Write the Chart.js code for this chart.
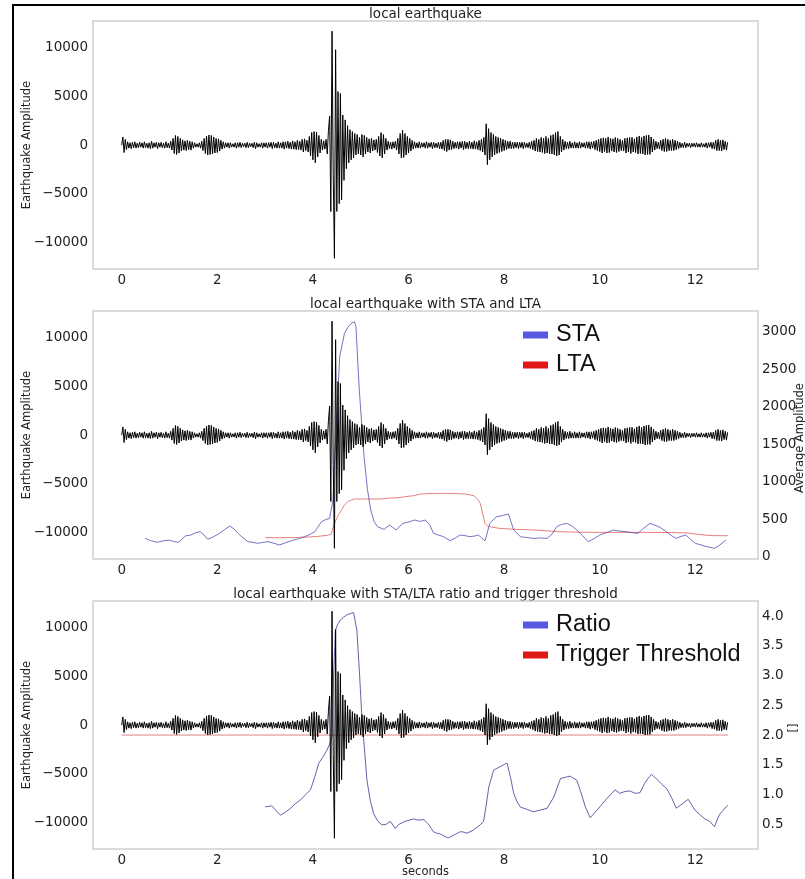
<!DOCTYPE html>
<html>
<head>
<meta charset="utf-8">
<title>local earthquake STA/LTA</title>
<script src="https://cdn.jsdelivr.net/npm/chart.js@4.4.1/dist/chart.umd.min.js"></script>
<style>
  html, body { margin: 0; padding: 0; background: #fff; }
  body { width: 805px; height: 879px; position: relative; overflow: hidden; }
  canvas { position: absolute; left: 0; }
  .frame-top { position: absolute; left: 12px; top: 4px; width: 793px; height: 2px; background: #000; }
  .frame-left { position: absolute; left: 12px; top: 4px; width: 2px; height: 875px; background: #000; }
</style>
</head>
<body>
<canvas id="quake" width="805" height="290" style="top:0px"></canvas>
<canvas id="staLta" width="805" height="290" style="top:290px"></canvas>
<canvas id="ratio" width="805" height="299" style="top:580px"></canvas>
<div class="frame-top"></div>
<div class="frame-left"></div>
<script>
// tick labels
const secondTicks = [0, 2, 4, 6, 8, 10, 12];
const ampTicks = [-10000, -5000, 0, 5000, 10000];
const avgTicks = [0, 500, 1000, 1500, 2000, 2500, 3000];
const ratioTicks = [0.5, 1.0, 1.5, 2.0, 2.5, 3.0, 3.5, 4.0];

// seismogram, one sample every 0.025 s starting at 0 s (one row per second)
const waveStart = 0;
const waveStep = 0.025;
const waveAmp = [
  0, 850, -750, 600, -450, 350, -300, 250, -350, 300, -250, 350, -300, 200, -250, 300, -200, 250, -300, 350,
  -250, 200, -300, 250, -350, 400, -300, 250, -200, 300, -350, 250, -200, 300, -250, 200, -300, 350, -250, 200,
  -300, 400, -500, 700, -850, 1000, -950, 900, -800, 700, -600, 550, -500, 450, -550, 500, -450, 400, -500, 350,
  -300, 250, -200, 150, -200, 250, -300, 400, -550, 700, -850, 950, -1000, 1050, -950, 1000, -900, 850, -800, 700,
  -750, 650, -600, 500, -400, 350, -300, 250, -200, 250, -300, 250, -200, 150, -200, 250, -300, 250, -200, 300,
  -250, 200, -150, 200, -250, 300, -250, 200, -150, 200, -250, 300, -350, 250, -200, 150, -200, 250, -300, 250,
  -200, 250, -300, 250, -200, 300, -350, 300, -250, 200, -300, 350, -300, 250, -300, 350, -400, 350, -300, 400,
  -350, 300, -400, 450, -400, 350, -450, 500, -450, 400, -500, 600, -700, 650, -550, 500, -700, 900, -1100, 1300,
  -1500, 1400, -1800, 1350, -1200, 1000, -800, 600, -500, 450, -400, 600, -900, 1500, 3000, -6800, 11700, -3000, -11600, 9800,
  -6800, 5500, -6000, 5300, -5600, 3100, -3600, 2600, -2400, 2000, -1800, 1600, -1500, 1400, -1300, 1200, -1000, 1100, -900, 800,
  -1000, 1100, -1200, 1000, -900, 800, -700, 650, -800, 700, -600, 550, -500, 600, -750, 900, -1100, 1300, -1300, 1100,
  -900, 700, -500, 400, -350, 300, -400, 350, -300, 400, -500, 700, -900, 1200, -1300, 1550, -1250, 1200, -1000, 900,
  -800, 700, -600, 500, -400, 350, -300, 250, -300, 350, -300, 250, -200, 250, -300, 350, -300, 250, -200, 300,
  -350, 300, -250, 200, -250, 300, -350, 300, -400, 500, -550, 600, -650, 600, -500, 550, -450, 400, -350, 300,
  -300, 350, -400, 350, -300, 400, -450, 400, -350, 300, -350, 400, -350, 300, -400, 450, -400, 350, -450, 500,
  -550, 600, -700, 800, -1000, 2200, -2000, 1700, -1500, 1300, -1200, 1100, -1000, 900, -850, 800, -750, 700, -650, 600,
  -550, 500, -450, 400, -350, 400, -350, 300, -350, 300, -250, 300, -350, 300, -250, 300, -350, 300, -250, 200,
  -250, 300, -350, 400, -450, 500, -600, 700, -650, 600, -700, 800, -750, 700, -850, 900, -800, 700, -900, 1000,
  -900, 1100, -1000, 1300, -1100, 1400, -1000, 900, -700, 600, -500, 400, -350, 300, -350, 400, -300, 250, -300, 350,
  -300, 250, -300, 350, -300, 250, -200, 250, -300, 350, -300, 350, -400, 350, -300, 400, -450, 500, -550, 600,
  -650, 700, -800, 750, -650, 700, -800, 850, -750, 700, -600, 650, -700, 800, -750, 700, -650, 600, -550, 500,
  -600, 700, -800, 750, -700, 800, -850, 800, -700, 650, -750, 850, -900, 950, -850, 800, -900, 950, -1000, 1000,
  -950, 1050, -950, 850, -700, 600, -500, 400, -350, 300, -400, 500, -550, 600, -650, 700, -650, 600, -550, 500,
  -550, 600, -550, 500, -450, 400, -350, 300, -250, 200, -250, 300, -250, 200, -150, 200, -250, 200, -150, 200,
  -200, 250, -200, 150, -200, 250, -200, 150, -200, 250, -300, 250, -200, 300, -350, 300, -400, 500, -550, 600,
  -550, 500, -600, 550, -450, 400, -500, 300
];

// short term average
const staTime = [0.49, 0.6, 0.74, 0.9, 1.0, 1.1, 1.19, 1.33, 1.45, 1.55, 1.64, 1.72, 1.8, 1.92, 2.05, 2.15, 2.26, 2.35, 2.43, 2.52,
  2.64, 2.75, 2.85, 2.95, 3.06, 3.18, 3.3, 3.42, 3.55, 3.7, 3.83, 3.95, 4.04, 4.1, 4.18, 4.27, 4.35, 4.42, 4.49, 4.56,
  4.66, 4.73, 4.8, 4.87, 4.9, 4.97, 5.07, 5.14, 5.21, 5.28, 5.35, 5.49, 5.6, 5.67, 5.74, 5.88, 6.03, 6.12, 6.25, 6.35,
  6.45, 6.52, 6.62, 6.73, 6.87, 6.98, 7.08, 7.18, 7.29, 7.38, 7.46, 7.53, 7.6, 7.7, 7.84, 7.95, 8.09, 8.2, 8.34, 8.48,
  8.62, 8.76, 8.9, 9.0, 9.1, 9.2, 9.31, 9.42, 9.52, 9.64, 9.76, 9.88, 10.0, 10.14, 10.28, 10.42, 10.56, 10.68, 10.8, 10.92,
  11.05, 11.15, 11.26, 11.4, 11.5, 11.6, 11.7, 11.8, 11.9, 12.0, 12.1, 12.2, 12.3, 12.4, 12.5, 12.64];
const staValue = [245, 215, 192, 215, 220, 200, 192, 276, 290, 320, 333, 290, 232, 265, 313, 360, 409, 370, 313, 260,
  200, 190, 178, 190, 200, 180, 156, 185, 213, 240, 267, 300, 333, 390, 467, 495, 511, 756, 1778, 2667,
  2978, 3060, 3111, 3133, 3067, 2222, 1333, 900, 622, 470, 400, 364, 422, 390, 356, 444, 467, 489, 470, 489,
  420, 311, 290, 267, 213, 250, 289, 280, 267, 275, 289, 250, 213, 444, 533, 545, 569, 356, 267, 255,
  244, 250, 244, 300, 400, 430, 444, 410, 356, 280, 200, 240, 289, 320, 356, 340, 333, 320, 311, 380,
  444, 420, 391, 330, 280, 244, 270, 289, 230, 178, 160, 140, 125, 111, 150, 222];

// long term average
const ltaTime = [3.0, 3.3, 3.6, 3.9, 4.1, 4.3, 4.38, 4.45, 4.52, 4.6, 4.66, 4.73, 4.8, 4.87, 5.2, 5.42, 5.6, 5.83, 6.0, 6.12,
  6.25, 6.5, 6.8, 7.0, 7.2, 7.37, 7.45, 7.5, 7.55, 7.6, 7.65, 7.7, 7.9, 8.2, 8.6, 9.0, 9.16, 9.6, 10.0, 10.5,
  11.0, 11.5, 11.8, 12.0, 12.2, 12.4, 12.68];
const ltaValue = [253, 253, 255, 262, 270, 285, 298, 444, 540, 622, 690, 733, 755, 769, 769, 770, 780, 790, 805, 815,
  836, 843, 844, 842, 835, 813, 760, 711, 580, 444, 410, 400, 378, 365, 356, 340, 333, 326, 324, 324,
  324, 322, 318, 302, 288, 280, 280];

// STA/LTA ratio
const ratioTime = [3.0, 3.07, 3.14, 3.2, 3.26, 3.32, 3.42, 3.53, 3.64, 3.74, 3.85, 3.95, 4.04, 4.12, 4.2, 4.29, 4.35, 4.4, 4.43, 4.47,
  4.52, 4.57, 4.64, 4.71, 4.78, 4.85, 4.92, 4.97, 5.02, 5.08, 5.13, 5.2, 5.27, 5.35, 5.44, 5.53, 5.62, 5.72, 5.8, 5.93,
  6.02, 6.11, 6.2, 6.32, 6.42, 6.52, 6.59, 6.66, 6.75, 6.83, 6.95, 7.08, 7.15, 7.22, 7.35, 7.5, 7.57, 7.62, 7.68, 7.78,
  7.92, 8.06, 8.13, 8.2, 8.27, 8.34, 8.48, 8.62, 8.76, 8.9, 9.04, 9.11, 9.18, 9.28, 9.38, 9.52, 9.6, 9.7, 9.8, 9.9,
  10.0, 10.09, 10.18, 10.25, 10.32, 10.42, 10.52, 10.63, 10.74, 10.84, 10.94, 11.01, 11.08, 11.15, 11.22, 11.3, 11.4, 11.5, 11.6, 11.72,
  11.85, 11.92, 11.99, 12.1, 12.2, 12.3, 12.4, 12.5, 12.64, 12.68];
const ratioValue = [0.795, 0.8, 0.81, 0.76, 0.7, 0.655, 0.7, 0.77, 0.85, 0.91, 1.0, 1.08, 1.3, 1.52, 1.62, 1.74, 1.85, 1.97, 2.94, 3.76,
  3.86, 3.93, 3.98, 4.02, 4.04, 4.06, 3.76, 3.1, 2.36, 1.75, 1.24, 0.9, 0.68, 0.56, 0.49, 0.5, 0.55, 0.43, 0.5, 0.55,
  0.57, 0.59, 0.57, 0.58, 0.5, 0.375, 0.35, 0.34, 0.3, 0.27, 0.32, 0.375, 0.37, 0.35, 0.4, 0.49, 0.55, 0.8, 1.13, 1.41,
  1.47, 1.53, 1.3, 1.02, 0.88, 0.79, 0.75, 0.71, 0.74, 0.77, 0.96, 1.12, 1.27, 1.29, 1.31, 1.24, 1.05, 0.79, 0.61, 0.7,
  0.79, 0.88, 0.96, 1.02, 1.08, 1.02, 1.05, 1.06, 1.02, 1.03, 1.19, 1.27, 1.34, 1.29, 1.24, 1.17, 1.1, 0.95, 0.77, 0.84,
  0.92, 0.83, 0.74, 0.66, 0.59, 0.55, 0.46, 0.66, 0.79, 0.82];

// trigger threshold
const thresholdTime = [0, 12.68];
const thresholdValue = [2.0, 2.0];

const fontFamily = "'DejaVu Sans', sans-serif";
Chart.defaults.font.family = fontFamily;
Chart.defaults.color = '#222';

function toPoints(xs, ys) {
  return xs.map((x, i) => ({ x: x, y: ys[i] }));
}
const wavePoints = waveAmp.map((v, i) => ({ x: waveStart + i * waveStep, y: v }));

function minusSign(v) {
  return v < 0 ? '\u2212' + Math.abs(v) : String(v);
}

// frame, legend and right-hand axis label
const panelDecor = {
  id: 'panelDecor',
  afterDraw(chart, args, opts) {
    const ctx = chart.ctx;
    const a = chart.chartArea;
    ctx.save();
    ctx.strokeStyle = '#d0d0d0';
    ctx.lineWidth = 1.5;
    ctx.strokeRect(a.left, a.top, a.right - a.left, a.bottom - a.top);
    if (opts.legend) {
      ctx.font = "23.5px 'Liberation Sans', Arial, sans-serif";
      ctx.textBaseline = 'middle';
      ctx.textAlign = 'left';
      opts.legend.forEach((item, i) => {
        const y = 45 + i * 30;
        ctx.fillStyle = item.color;
        ctx.fillRect(523, y - 3.5, 25, 7);
        ctx.fillStyle = '#111';
        ctx.fillText(item.label, 556, y);
      });
    }
    if (opts.rightTitle) {
      ctx.font = '11.5px ' + fontFamily;
      ctx.fillStyle = '#222';
      ctx.textAlign = 'center';
      ctx.textBaseline = 'middle';
      ctx.translate(opts.rightTitleX, (a.top + a.bottom) / 2 + 3);
      ctx.rotate(-Math.PI / 2);
      ctx.fillText(opts.rightTitle, 0, 0);
    }
    ctx.restore();
  }
};
Chart.register(panelDecor);

function xAxis(withTitle, height) {
  return {
    type: 'linear',
    min: -0.6,
    max: 13.31,
    grid: { display: false, drawTicks: false },
    border: { display: false },
    ticks: { padding: 3, font: { size: 13.5 }, color: '#222', maxRotation: 0, autoSkip: false },
    afterBuildTicks: s => { s.ticks = secondTicks.map(v => ({ value: v })); },
    afterFit: s => { s.height = height; },
    title: { display: withTitle, text: 'seconds', font: { size: 11.5 }, color: '#222', padding: { top: 0, bottom: 0 } }
  };
}

function ampAxis() {
  return {
    type: 'linear',
    position: 'left',
    min: -12700,
    max: 12740,
    grid: { display: false, drawTicks: false },
    border: { display: false },
    ticks: { padding: 5, font: { size: 13.5 }, color: '#222', callback: v => minusSign(v) },
    afterBuildTicks: s => { s.ticks = ampTicks.map(v => ({ value: v })); },
    afterFit: s => { s.width = 93; },
    title: { display: true, text: 'Earthquake Amplitude', font: { size: 11.5 }, color: '#222', padding: { top: 20, bottom: 0 } }
  };
}

function rightAxis(min, max, tickList, fmt) {
  return {
    type: 'linear',
    position: 'right',
    min: min,
    max: max,
    grid: { display: false, drawTicks: false },
    border: { display: false },
    ticks: { padding: 4, font: { size: 13.5 }, color: '#222', callback: fmt },
    afterBuildTicks: s => { s.ticks = tickList.map(v => ({ value: v })); },
    afterFit: s => { s.width = 47; }
  };
}

function titleOpts(text) {
  return {
    display: true,
    text: text,
    fullSize: false,
    color: '#222',
    font: { size: 13.5, weight: 'normal', lineHeight: 0.95 },
    padding: { top: 8, bottom: 0.2 }
  };
}

const waveDataset = {
  label: 'earthquake',
  data: wavePoints,
  borderColor: '#000',
  borderWidth: 1,
  pointRadius: 0,
  yAxisID: 'y'
};

// panel 1
new Chart(document.getElementById('quake'), {
  type: 'line',
  data: { datasets: [Object.assign({}, waveDataset)] },
  options: {
    responsive: false,
    animation: false,
    devicePixelRatio: 1,
    layout: { padding: { left: 0, right: 47, top: 0, bottom: 0 } },
    scales: { x: xAxis(false, 21), y: ampAxis() },
    plugins: {
      legend: { display: false },
      tooltip: { enabled: false },
      title: titleOpts('local earthquake'),
      panelDecor: {}
    }
  }
});

// panel 2
new Chart(document.getElementById('staLta'), {
  type: 'line',
  data: {
    datasets: [
      Object.assign({}, waveDataset),
      { label: 'STA', data: toPoints(staTime, staValue), borderColor: 'rgba(70,70,175,0.75)', borderWidth: 1, pointRadius: 0, yAxisID: 'y2' },
      { label: 'LTA', data: toPoints(ltaTime, ltaValue), borderColor: 'rgba(225,95,95,0.8)', borderWidth: 1, pointRadius: 0, yAxisID: 'y2' }
    ]
  },
  options: {
    responsive: false,
    animation: false,
    devicePixelRatio: 1,
    layout: { padding: 0 },
    scales: {
      x: xAxis(false, 21),
      y: ampAxis(),
      y2: rightAxis(-31, 3276, avgTicks, v => String(v))
    },
    plugins: {
      legend: { display: false },
      tooltip: { enabled: false },
      title: titleOpts('local earthquake with STA and LTA'),
      panelDecor: {
        legend: [{ label: 'STA', color: '#5858e2' }, { label: 'LTA', color: '#e01818' }],
        rightTitle: 'Average Amplitude',
        rightTitleX: 800
      }
    }
  }
});

// panel 3
new Chart(document.getElementById('ratio'), {
  type: 'line',
  data: {
    datasets: [
      Object.assign({}, waveDataset),
      { label: 'Ratio', data: toPoints(ratioTime, ratioValue), borderColor: 'rgba(60,60,150,0.8)', borderWidth: 1, pointRadius: 0, yAxisID: 'y2' },
      { label: 'Trigger Threshold', data: toPoints(thresholdTime, thresholdValue), borderColor: 'rgba(215,110,110,0.85)', borderWidth: 1, pointRadius: 0, yAxisID: 'y2' }
    ]
  },
  options: {
    responsive: false,
    animation: false,
    devicePixelRatio: 1,
    layout: { padding: 0 },
    scales: {
      x: xAxis(true, 30),
      y: ampAxis(),
      y2: rightAxis(0.085, 4.252, ratioTicks, v => v.toFixed(1))
    },
    plugins: {
      legend: { display: false },
      tooltip: { enabled: false },
      title: titleOpts('local earthquake with STA/LTA ratio and trigger threshold'),
      panelDecor: {
        legend: [{ label: 'Ratio', color: '#5858e2' }, { label: 'Trigger Threshold', color: '#e01818' }],
        rightTitle: '[]',
        rightTitleX: 794
      }
    }
  }
});
</script>
</body>
</html>
